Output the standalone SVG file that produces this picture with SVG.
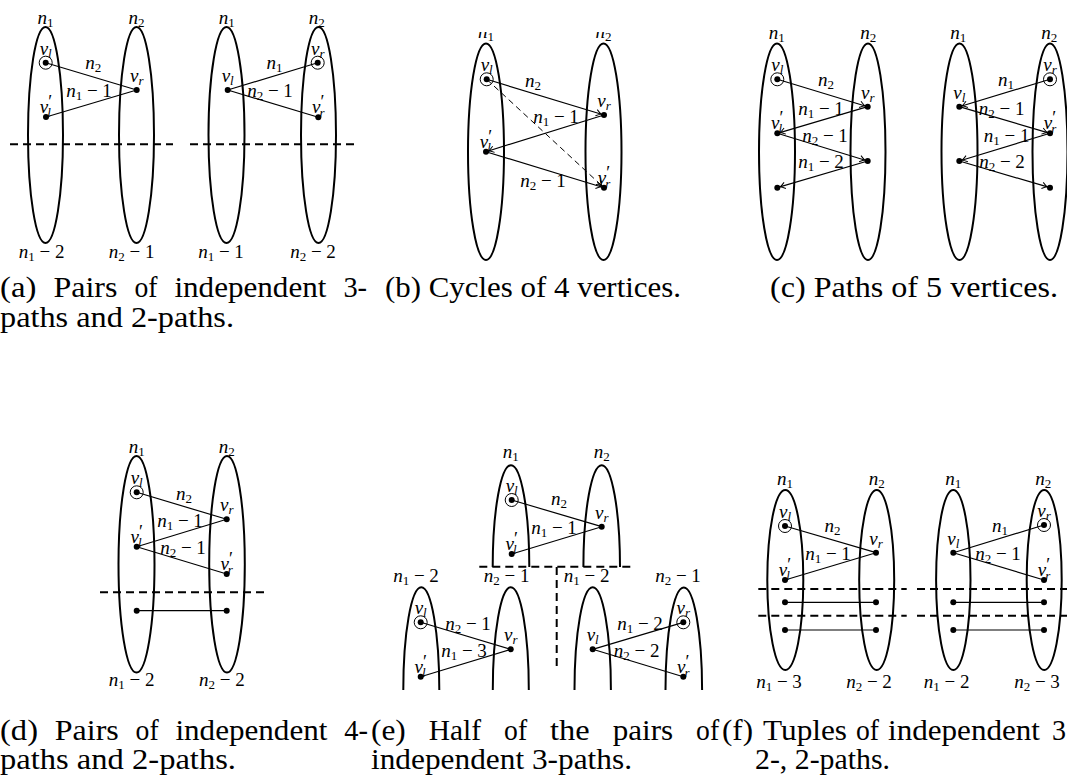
<svg xmlns="http://www.w3.org/2000/svg" width="1067" height="780" viewBox="0 0 1067 780">
<style>
.part{fill:none;stroke:#000;stroke-width:2}
.dash{fill:none;stroke:#000;stroke-width:2;stroke-dasharray:8 5}
.e{fill:none;stroke:#000;stroke-width:1.2}
.ea{fill:none;stroke:#000;stroke-width:1.2;marker-end:url(#arr)}
.ed{fill:none;stroke:#000;stroke-width:1;stroke-dasharray:6 4;marker-end:url(#arr)}
.dot{fill:#000}
.ring{fill:none;stroke:#000;stroke-width:1}
.lab{font-family:"Liberation Serif",serif;font-size:19px;font-style:italic;text-anchor:middle;fill:#000}
.sb{font-size:13px;font-style:normal}
.si{font-size:13px;font-style:italic}
.pr{font-size:18px;font-style:normal}
.up{font-style:normal}
.cap{font-family:"Liberation Serif",serif;font-size:29.5px;fill:#000}
</style>
<defs>
<marker id="arr" markerUnits="userSpaceOnUse" markerWidth="12" markerHeight="12" viewBox="-8 -6 12 12" refX="3" refY="0" orient="auto">
<path d="M-5,-3.2 Q-1.5,-0.6 0,0 Q-1.5,0.6 -5,3.2" fill="none" stroke="#000" stroke-width="1"/>
</marker>
<clipPath id="clipb"><rect x="440" y="32" width="230" height="240"/></clipPath>
</defs>

<!-- (a) -->
<g id="a-left">
<g id="a1-n1"><ellipse class="part" cx="45.5" cy="135" rx="17.5" ry="108"/><text class="lab" x="45.5" y="24">n<tspan class="sb" dy="3">1</tspan></text><text class="lab" x="41.7" y="258">n<tspan class="sb" dy="3">1</tspan><tspan class="up" dy="-3"> − 2</tspan></text></g>
<g id="a1-n2"><ellipse class="part" cx="136.5" cy="135" rx="17.5" ry="108"/><text class="lab" x="136.5" y="24">n<tspan class="sb" dy="3">2</tspan></text><text class="lab" x="131.7" y="258">n<tspan class="sb" dy="3">2</tspan><tspan class="up" dy="-3"> − 1</tspan></text></g>
<g id="a1-vl"><circle class="dot" cx="45.7" cy="62.7" r="3"/><circle class="ring" cx="45.7" cy="62.7" r="6.5"/><text class="lab" x="45.7" y="54.7">v<tspan class="si" dy="3">l</tspan></text></g>
<g id="a1-vr"><circle class="dot" cx="136.7" cy="90" r="3"/><text class="lab" x="136.7" y="82">v<tspan class="si" dy="3">r</tspan></text></g>
<g id="a1-vl2"><circle class="dot" cx="46" cy="117" r="3"/><text class="lab" x="46" y="113">v<tspan class="pr" dy="-5">′</tspan><tspan class="si" dx="-5" dy="9">l</tspan></text></g>
</g>
<g id="a-right">
<g id="a2-n1"><ellipse class="part" cx="226.5" cy="135" rx="18" ry="108"/><text class="lab" x="226.7" y="24">n<tspan class="sb" dy="3">1</tspan></text><text class="lab" x="221" y="258">n<tspan class="sb" dy="3">1</tspan><tspan class="up" dy="-3"> − 1</tspan></text></g>
<g id="a2-n2"><ellipse class="part" cx="318.5" cy="135" rx="17.5" ry="108"/><text class="lab" x="316.7" y="24">n<tspan class="sb" dy="3">2</tspan></text><text class="lab" x="313" y="258">n<tspan class="sb" dy="3">2</tspan><tspan class="up" dy="-3"> − 2</tspan></text></g>
<g id="a2-vr"><circle class="dot" cx="317.7" cy="62.7" r="3"/><circle class="ring" cx="317.7" cy="62.7" r="6.5"/><text class="lab" x="317.7" y="54.7">v<tspan class="si" dy="3">r</tspan></text></g>
<g id="a2-vl"><circle class="dot" cx="227.7" cy="90" r="3"/><text class="lab" x="227.7" y="82">v<tspan class="si" dy="3">l</tspan></text></g>
<g id="a2-vr2"><circle class="dot" cx="318.3" cy="117.3" r="3"/><text class="lab" x="318.3" y="113.3">v<tspan class="pr" dy="-5">′</tspan><tspan class="si" dx="-5" dy="9">r</tspan></text></g>
</g>

<!-- (b) -->
<g id="b" clip-path="url(#clipb)">
<g id="b-n1"><ellipse class="part" cx="486" cy="151.7" rx="18" ry="108.3"/><text class="lab" x="486" y="38">n<tspan class="sb" dy="3">1</tspan></text></g>
<g id="b-n2"><ellipse class="part" cx="603.5" cy="151.7" rx="18" ry="108.3"/><text class="lab" x="603.5" y="38">n<tspan class="sb" dy="3">2</tspan></text></g>
<g id="b-vl"><circle class="dot" cx="486.7" cy="79.3" r="3"/><circle class="ring" cx="486.7" cy="79.3" r="6.5"/><text class="lab" x="486.7" y="71.3">v<tspan class="si" dy="3">l</tspan></text></g>
<g id="b-vr"><circle class="dot" cx="604" cy="115" r="3"/><text class="lab" x="604" y="107">v<tspan class="si" dy="3">r</tspan></text></g>
<g id="b-vl2"><circle class="dot" cx="486" cy="151.7" r="3"/><text class="lab" x="486" y="147.7">v<tspan class="pr" dy="-5">′</tspan><tspan class="si" dx="-5" dy="9">l</tspan></text></g>
<g id="b-vr2"><circle class="dot" cx="604" cy="187.7" r="3"/><text class="lab" x="604" y="183.7">v<tspan class="pr" dy="-5">′</tspan><tspan class="si" dx="-5" dy="9">r</tspan></text></g>
</g>

<!-- (c) -->
<g id="c-left">
<g id="c1-n1"><ellipse class="part" cx="777" cy="151.7" rx="18" ry="108.3"/><text class="lab" x="776.7" y="39">n<tspan class="sb" dy="3">1</tspan></text></g>
<g id="c1-n2"><ellipse class="part" cx="868" cy="151.7" rx="17.5" ry="108.3"/><text class="lab" x="868.3" y="39">n<tspan class="sb" dy="3">2</tspan></text></g>
<g id="c1-vl"><circle class="dot" cx="777.3" cy="79.3" r="3"/><circle class="ring" cx="777.3" cy="79.3" r="6.5"/><text class="lab" x="777.3" y="71.3">v<tspan class="si" dy="3">l</tspan></text></g>
<g id="c1-vr"><circle class="dot" cx="867.7" cy="106.7" r="3"/><text class="lab" x="867.7" y="98.7">v<tspan class="si" dy="3">r</tspan></text></g>
<g id="c1-vl2"><circle class="dot" cx="777.3" cy="133.3" r="3"/><text class="lab" x="777.3" y="129.3">v<tspan class="pr" dy="-5">′</tspan><tspan class="si" dx="-5" dy="9">l</tspan></text></g>
<g id="c1-v4"><circle class="dot" cx="867.7" cy="161" r="3"/></g>
<g id="c1-v5"><circle class="dot" cx="777.3" cy="187.7" r="3"/></g>
</g>
<g id="c-right">
<g id="c2-n1"><ellipse class="part" cx="959.5" cy="151.7" rx="18" ry="108.3"/><text class="lab" x="958.3" y="39">n<tspan class="sb" dy="3">1</tspan></text></g>
<g id="c2-n2"><ellipse class="part" cx="1050" cy="151.7" rx="17.5" ry="108.3"/><text class="lab" x="1049.3" y="39">n<tspan class="sb" dy="3">2</tspan></text></g>
<g id="c2-vr"><circle class="dot" cx="1050" cy="79.3" r="3"/><circle class="ring" cx="1050" cy="79.3" r="6.5"/><text class="lab" x="1050" y="71.3">v<tspan class="si" dy="3">r</tspan></text></g>
<g id="c2-vl"><circle class="dot" cx="959.3" cy="106.7" r="3"/><text class="lab" x="959.3" y="98.7">v<tspan class="si" dy="3">l</tspan></text></g>
<g id="c2-vr2"><circle class="dot" cx="1050" cy="133.3" r="3"/><text class="lab" x="1050" y="129.3">v<tspan class="pr" dy="-5">′</tspan><tspan class="si" dx="-5" dy="9">r</tspan></text></g>
<g id="c2-v4"><circle class="dot" cx="959.3" cy="161" r="3"/></g>
<g id="c2-v5"><circle class="dot" cx="1050" cy="187.7" r="3"/></g>
</g>

<!-- (d) -->
<g id="d">
<g id="d-n1"><ellipse class="part" cx="136.5" cy="564.3" rx="18" ry="108.3"/><text class="lab" x="136.7" y="453">n<tspan class="sb" dy="3">1</tspan></text><text class="lab" x="131.7" y="686">n<tspan class="sb" dy="3">1</tspan><tspan class="up" dy="-3"> − 2</tspan></text></g>
<g id="d-n2"><ellipse class="part" cx="227" cy="564.3" rx="17.8" ry="108.3"/><text class="lab" x="226.7" y="453">n<tspan class="sb" dy="3">2</tspan></text><text class="lab" x="221.8" y="686">n<tspan class="sb" dy="3">2</tspan><tspan class="up" dy="-3"> − 2</tspan></text></g>
<g id="d-vl"><circle class="dot" cx="136.7" cy="492.3" r="3"/><circle class="ring" cx="136.7" cy="492.3" r="6.5"/><text class="lab" x="136.7" y="484.3">v<tspan class="si" dy="3">l</tspan></text></g>
<g id="d-vr"><circle class="dot" cx="226.7" cy="519.3" r="3"/><text class="lab" x="226.7" y="511.3">v<tspan class="si" dy="3">r</tspan></text></g>
<g id="d-vl2"><circle class="dot" cx="136.7" cy="546.7" r="3"/><text class="lab" x="136.7" y="542.7">v<tspan class="pr" dy="-5">′</tspan><tspan class="si" dx="-5" dy="9">l</tspan></text></g>
<g id="d-vr2"><circle class="dot" cx="226.7" cy="574" r="3"/><text class="lab" x="226.7" y="570">v<tspan class="pr" dy="-5">′</tspan><tspan class="si" dx="-5" dy="9">r</tspan></text></g>
<g id="d-a"><circle class="dot" cx="136.7" cy="610.7" r="3"/></g>
<g id="d-b"><circle class="dot" cx="226.7" cy="610.7" r="3"/></g>
</g>

<!-- (e) -->
<g id="e">
<g id="e-t1"><path class="part" d="M492.7,567 A18.3,102 0 0 1 529.3,567"/><text class="lab" x="510.7" y="458">n<tspan class="sb" dy="3">1</tspan></text></g>
<g id="e-t2"><path class="part" d="M583.4,567 A18.3,102 0 0 1 620,567"/><text class="lab" x="601.7" y="458">n<tspan class="sb" dy="3">2</tspan></text></g>
<g id="e-b1"><path class="part" d="M403.3,690 A18,102.7 0 0 1 439.3,690"/><text class="lab" x="416" y="582">n<tspan class="sb" dy="3">1</tspan><tspan class="up" dy="-3"> − 2</tspan></text></g>
<g id="e-b2"><path class="part" d="M492.8,690 A18,102.7 0 0 1 528.8,690"/><text class="lab" x="506.7" y="582">n<tspan class="sb" dy="3">2</tspan><tspan class="up" dy="-3"> − 1</tspan></text></g>
<g id="e-b3"><path class="part" d="M574.5,690 A18.2,102.7 0 0 1 610.9,690"/><text class="lab" x="586.7" y="582">n<tspan class="sb" dy="3">1</tspan><tspan class="up" dy="-3"> − 2</tspan></text></g>
<g id="e-b4"><path class="part" d="M665.5,690 A18.3,102.7 0 0 1 702.1,690"/><text class="lab" x="678" y="582">n<tspan class="sb" dy="3">2</tspan><tspan class="up" dy="-3"> − 1</tspan></text></g>
<g id="e-t-vl"><circle class="dot" cx="511.7" cy="500" r="3"/><circle class="ring" cx="511.7" cy="500" r="6.5"/><text class="lab" x="511.7" y="492">v<tspan class="si" dy="3">l</tspan></text></g>
<g id="e-t-vr"><circle class="dot" cx="601.7" cy="526.7" r="3"/><text class="lab" x="601.7" y="518.7">v<tspan class="si" dy="3">r</tspan></text></g>
<g id="e-t-vl2"><circle class="dot" cx="511.7" cy="554" r="3"/><text class="lab" x="511.7" y="550">v<tspan class="pr" dy="-5">′</tspan><tspan class="si" dx="-5" dy="9">l</tspan></text></g>
<g id="e-l-vl"><circle class="dot" cx="420.7" cy="622.3" r="3"/><circle class="ring" cx="420.7" cy="622.3" r="6.5"/><text class="lab" x="420.7" y="614.3">v<tspan class="si" dy="3">l</tspan></text></g>
<g id="e-l-vr"><circle class="dot" cx="510.7" cy="649.3" r="3"/><text class="lab" x="510.7" y="641.3">v<tspan class="si" dy="3">r</tspan></text></g>
<g id="e-l-vl2"><circle class="dot" cx="420.7" cy="676.7" r="3"/><text class="lab" x="420.7" y="672.7">v<tspan class="pr" dy="-5">′</tspan><tspan class="si" dx="-5" dy="9">l</tspan></text></g>
<g id="e-r-vl"><circle class="dot" cx="592.7" cy="649.3" r="3"/><text class="lab" x="592.7" y="641.3">v<tspan class="si" dy="3">l</tspan></text></g>
<g id="e-r-vr"><circle class="dot" cx="683.3" cy="622.3" r="3"/><circle class="ring" cx="683.3" cy="622.3" r="6.5"/><text class="lab" x="683.3" y="614.3">v<tspan class="si" dy="3">r</tspan></text></g>
<g id="e-r-vr2"><circle class="dot" cx="683.3" cy="676.7" r="3"/><text class="lab" x="683.3" y="672.7">v<tspan class="pr" dy="-5">′</tspan><tspan class="si" dx="-5" dy="9">r</tspan></text></g>
</g>

<!-- (f) -->
<g id="f-left">
<g id="f1-n1"><ellipse class="part" cx="785.3" cy="580" rx="18" ry="90"/><text class="lab" x="785" y="485">n<tspan class="sb" dy="3">1</tspan></text><text class="lab" x="779" y="688">n<tspan class="sb" dy="3">1</tspan><tspan class="up" dy="-3"> − 3</tspan></text></g>
<g id="f1-n2"><ellipse class="part" cx="876.7" cy="580" rx="17.5" ry="90"/><text class="lab" x="876.7" y="485">n<tspan class="sb" dy="3">2</tspan></text><text class="lab" x="869" y="688">n<tspan class="sb" dy="3">2</tspan><tspan class="up" dy="-3"> − 2</tspan></text></g>
<g id="f1-vl"><circle class="dot" cx="785" cy="526" r="3"/><circle class="ring" cx="785" cy="526" r="6.5"/><text class="lab" x="785" y="518">v<tspan class="si" dy="3">l</tspan></text></g>
<g id="f1-vr"><circle class="dot" cx="876" cy="552.7" r="3"/><text class="lab" x="876" y="544.7">v<tspan class="si" dy="3">r</tspan></text></g>
<g id="f1-vl2"><circle class="dot" cx="785" cy="580" r="3"/><text class="lab" x="785" y="576">v<tspan class="pr" dy="-5">′</tspan><tspan class="si" dx="-5" dy="9">l</tspan></text></g>
<g id="f1-p"><circle class="dot" cx="785" cy="602.3" r="3"/><circle class="dot" cx="876" cy="602.3" r="3"/><circle class="dot" cx="785" cy="630" r="3"/><circle class="dot" cx="876" cy="630" r="3"/></g>
</g>
<g id="f-right">
<g id="f2-n1"><ellipse class="part" cx="953.3" cy="580" rx="17.2" ry="90"/><text class="lab" x="953.3" y="485">n<tspan class="sb" dy="3">1</tspan></text><text class="lab" x="946.7" y="688">n<tspan class="sb" dy="3">1</tspan><tspan class="up" dy="-3"> − 2</tspan></text></g>
<g id="f2-n2"><ellipse class="part" cx="1044.2" cy="580" rx="17.5" ry="90"/><text class="lab" x="1043.3" y="485">n<tspan class="sb" dy="3">2</tspan></text><text class="lab" x="1037" y="688">n<tspan class="sb" dy="3">2</tspan><tspan class="up" dy="-3"> − 3</tspan></text></g>
<g id="f2-vr"><circle class="dot" cx="1044" cy="525" r="3"/><circle class="ring" cx="1044" cy="525" r="6.5"/><text class="lab" x="1044" y="517">v<tspan class="si" dy="3">r</tspan></text></g>
<g id="f2-vl"><circle class="dot" cx="953.3" cy="552.7" r="3"/><text class="lab" x="953.3" y="544.7">v<tspan class="si" dy="3">l</tspan></text></g>
<g id="f2-vr2"><circle class="dot" cx="1044" cy="580" r="3"/><text class="lab" x="1044" y="576">v<tspan class="pr" dy="-5">′</tspan><tspan class="si" dx="-5" dy="9">r</tspan></text></g>
<g id="f2-p"><circle class="dot" cx="953.3" cy="602.3" r="3"/><circle class="dot" cx="1044" cy="602.3" r="3"/><circle class="dot" cx="953.3" cy="630" r="3"/><circle class="dot" cx="1044" cy="630" r="3"/></g>
</g>

<g id="connectors">
<line class="e" x1="45.7" y1="62.7" x2="136.7" y2="90"/>
<line class="e" x1="136.7" y1="90" x2="46" y2="117"/>
<line class="e" x1="317.7" y1="62.7" x2="227.7" y2="90"/>
<line class="e" x1="227.7" y1="90" x2="318.3" y2="117.3"/>
<line class="dash" x1="10" y1="144.3" x2="173" y2="144.3"/>
<line class="dash" x1="190" y1="144.3" x2="355" y2="144.3"/>
<line class="ea" x1="486.7" y1="79.3" x2="604" y2="115"/>
<line class="ea" x1="604" y1="115" x2="486" y2="151.7"/>
<line class="ea" x1="486" y1="151.7" x2="604" y2="187.7"/>
<line class="ed" x1="486.7" y1="79.3" x2="604" y2="187.7"/>
<line class="ea" x1="777.3" y1="79.3" x2="867.7" y2="106.7"/>
<line class="ea" x1="867.7" y1="106.7" x2="777.3" y2="133.3"/>
<line class="ea" x1="777.3" y1="133.3" x2="867.7" y2="161"/>
<line class="ea" x1="867.7" y1="161" x2="777.3" y2="187.7"/>
<line class="ea" x1="1050" y1="79.3" x2="959.3" y2="106.7"/>
<line class="ea" x1="959.3" y1="106.7" x2="1050" y2="133.3"/>
<line class="ea" x1="1050" y1="133.3" x2="959.3" y2="161"/>
<line class="ea" x1="959.3" y1="161" x2="1050" y2="187.7"/>
<line class="e" x1="136.7" y1="492.3" x2="226.7" y2="519.3"/>
<line class="e" x1="226.7" y1="519.3" x2="136.7" y2="546.7"/>
<line class="e" x1="136.7" y1="546.7" x2="226.7" y2="574"/>
<line class="e" x1="136.7" y1="610.7" x2="226.7" y2="610.7"/>
<line class="dash" x1="100" y1="592.3" x2="264" y2="592.3"/>
<line class="e" x1="511.7" y1="500" x2="601.7" y2="526.7"/>
<line class="e" x1="601.7" y1="526.7" x2="511.7" y2="554"/>
<line class="e" x1="420.7" y1="622.3" x2="510.7" y2="649.3"/>
<line class="e" x1="510.7" y1="649.3" x2="420.7" y2="676.7"/>
<line class="e" x1="683.3" y1="622.3" x2="592.7" y2="649.3"/>
<line class="e" x1="592.7" y1="649.3" x2="683.3" y2="676.7"/>
<line class="dash" x1="479.3" y1="566.7" x2="633.3" y2="566.7"/>
<line class="dash" x1="556.7" y1="567" x2="556.7" y2="668.3"/>
<line class="e" x1="785" y1="526" x2="876" y2="552.7"/>
<line class="e" x1="876" y1="552.7" x2="785" y2="580"/>
<line class="e" x1="785" y1="602.3" x2="876" y2="602.3"/>
<line class="e" x1="785" y1="630" x2="876" y2="630"/>
<line class="e" x1="1044" y1="525" x2="953.3" y2="552.7"/>
<line class="e" x1="953.3" y1="552.7" x2="1044" y2="580"/>
<line class="e" x1="953.3" y1="602.3" x2="1044" y2="602.3"/>
<line class="e" x1="953.3" y1="630" x2="1044" y2="630"/>
<line class="dash" x1="758.3" y1="589" x2="906.7" y2="589"/>
<line class="dash" x1="758.3" y1="615.7" x2="906.7" y2="615.7"/>
<line class="dash" x1="917" y1="589" x2="1067" y2="589"/>
<line class="dash" x1="917" y1="615.7" x2="1067" y2="615.7"/>
</g>

<g id="edge-labels">
<text class="lab" x="93.3" y="69">n<tspan class="sb" dy="3">2</tspan></text>
<text class="lab" x="89" y="97">n<tspan class="sb" dy="3">1</tspan><tspan class="up" dy="-3"> − 1</tspan></text>
<text class="lab" x="274.5" y="69">n<tspan class="sb" dy="3">1</tspan></text>
<text class="lab" x="270" y="97">n<tspan class="sb" dy="3">2</tspan><tspan class="up" dy="-3"> − 1</tspan></text>
<text class="lab" x="533" y="86.5">n<tspan class="sb" dy="3">2</tspan></text>
<text class="lab" x="556" y="123">n<tspan class="sb" dy="3">1</tspan><tspan class="up" dy="-3"> − 1</tspan></text>
<text class="lab" x="543" y="186.5">n<tspan class="sb" dy="3">2</tspan><tspan class="up" dy="-3"> − 1</tspan></text>
<text class="lab" x="826" y="86">n<tspan class="sb" dy="3">2</tspan></text>
<text class="lab" x="821" y="115">n<tspan class="sb" dy="3">1</tspan><tspan class="up" dy="-3"> − 1</tspan></text>
<text class="lab" x="825" y="141.5">n<tspan class="sb" dy="3">2</tspan><tspan class="up" dy="-3"> − 1</tspan></text>
<text class="lab" x="821" y="168">n<tspan class="sb" dy="3">1</tspan><tspan class="up" dy="-3"> − 2</tspan></text>
<text class="lab" x="1006" y="86">n<tspan class="sb" dy="3">1</tspan></text>
<text class="lab" x="1001.7" y="115">n<tspan class="sb" dy="3">2</tspan><tspan class="up" dy="-3"> − 1</tspan></text>
<text class="lab" x="1006.7" y="141.5">n<tspan class="sb" dy="3">1</tspan><tspan class="up" dy="-3"> − 1</tspan></text>
<text class="lab" x="1002" y="168">n<tspan class="sb" dy="3">2</tspan><tspan class="up" dy="-3"> − 2</tspan></text>
<text class="lab" x="184" y="500">n<tspan class="sb" dy="3">2</tspan></text>
<text class="lab" x="180" y="527">n<tspan class="sb" dy="3">1</tspan><tspan class="up" dy="-3"> − 1</tspan></text>
<text class="lab" x="183" y="554">n<tspan class="sb" dy="3">2</tspan><tspan class="up" dy="-3"> − 1</tspan></text>
<text class="lab" x="559" y="505">n<tspan class="sb" dy="3">2</tspan></text>
<text class="lab" x="554" y="534">n<tspan class="sb" dy="3">1</tspan><tspan class="up" dy="-3"> − 1</tspan></text>
<text class="lab" x="468" y="630">n<tspan class="sb" dy="3">2</tspan><tspan class="up" dy="-3"> − 1</tspan></text>
<text class="lab" x="464" y="656.5">n<tspan class="sb" dy="3">1</tspan><tspan class="up" dy="-3"> − 3</tspan></text>
<text class="lab" x="640" y="630">n<tspan class="sb" dy="3">1</tspan><tspan class="up" dy="-3"> − 2</tspan></text>
<text class="lab" x="636.7" y="656.5">n<tspan class="sb" dy="3">2</tspan><tspan class="up" dy="-3"> − 2</tspan></text>
<text class="lab" x="832.5" y="531.7">n<tspan class="sb" dy="3">2</tspan></text>
<text class="lab" x="828" y="560">n<tspan class="sb" dy="3">1</tspan><tspan class="up" dy="-3"> − 1</tspan></text>
<text class="lab" x="1000" y="531.7">n<tspan class="sb" dy="3">1</tspan></text>
<text class="lab" x="998" y="560">n<tspan class="sb" dy="3">2</tspan><tspan class="up" dy="-3"> − 1</tspan></text>
</g>

<g id="captions" class="cap">
<text x="0" y="297" textLength="36.4" lengthAdjust="spacingAndGlyphs">(a)</text>
<text x="53.4" y="297" textLength="64" lengthAdjust="spacingAndGlyphs">Pairs</text>
<text x="134.4" y="297" textLength="23" lengthAdjust="spacingAndGlyphs">of</text>
<text x="174.4" y="297" textLength="152" lengthAdjust="spacingAndGlyphs">independent</text>
<text x="343.4" y="297" textLength="23.7" lengthAdjust="spacingAndGlyphs">3-</text>
<text x="0" y="327" textLength="234" lengthAdjust="spacingAndGlyphs">paths and 2-paths.</text>
<text x="385" y="297" textLength="296" lengthAdjust="spacingAndGlyphs">(b) Cycles of 4 vertices.</text>
<text x="770" y="297" textLength="288" lengthAdjust="spacingAndGlyphs">(c) Paths of 5 vertices.</text>
<text x="0" y="740" textLength="38" lengthAdjust="spacingAndGlyphs">(d)</text>
<text x="54.8" y="740" textLength="64" lengthAdjust="spacingAndGlyphs">Pairs</text>
<text x="135.6" y="740" textLength="23" lengthAdjust="spacingAndGlyphs">of</text>
<text x="175.4" y="740" textLength="152" lengthAdjust="spacingAndGlyphs">independent</text>
<text x="344.2" y="740" textLength="23.7" lengthAdjust="spacingAndGlyphs">4-</text>
<text x="0" y="769" textLength="236" lengthAdjust="spacingAndGlyphs">paths and 2-paths.</text>
<text x="371" y="740" textLength="34.8" lengthAdjust="spacingAndGlyphs">(e)</text>
<text x="428.8" y="740" textLength="52.3" lengthAdjust="spacingAndGlyphs">Half</text>
<text x="504.1" y="740" textLength="23" lengthAdjust="spacingAndGlyphs">of</text>
<text x="550.1" y="740" textLength="39.6" lengthAdjust="spacingAndGlyphs">the</text>
<text x="612.7" y="740" textLength="60.4" lengthAdjust="spacingAndGlyphs">pairs</text>
<text x="696.1" y="740" textLength="23" lengthAdjust="spacingAndGlyphs">of</text>
<text x="371" y="769" textLength="261" lengthAdjust="spacingAndGlyphs">independent 3-paths.</text>
<text x="722" y="740" textLength="31" lengthAdjust="spacingAndGlyphs">(f)</text>
<text x="763" y="740" textLength="84" lengthAdjust="spacingAndGlyphs">Tuples</text>
<text x="856" y="740" textLength="23" lengthAdjust="spacingAndGlyphs">of</text>
<text x="888" y="740" textLength="152" lengthAdjust="spacingAndGlyphs">independent</text>
<text x="1052" y="740" textLength="14" lengthAdjust="spacingAndGlyphs">3</text>
<text x="755" y="769" textLength="135" lengthAdjust="spacingAndGlyphs">2-, 2-paths.</text>
</g>
</svg>
